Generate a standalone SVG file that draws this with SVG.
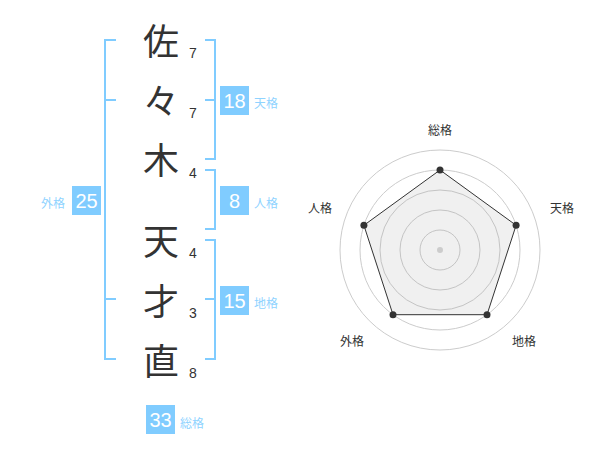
<svg xmlns="http://www.w3.org/2000/svg" width="600" height="470" viewBox="0 0 600 470">
<style>
.br{fill:none;stroke:#80ccff;stroke-width:2}
.kj{font-family:"Noto Sans CJK JP","Noto Sans CJK SC",sans-serif;font-size:36px;fill:#333;text-anchor:middle}
.num{font-family:"Liberation Sans",Arial,sans-serif;font-size:14px;fill:#333;text-anchor:middle}
.box{fill:#80ccff}
.bn{font-family:"Liberation Sans",Arial,sans-serif;font-size:20px;fill:#fff;text-anchor:middle}
.lb{font-family:"Noto Sans CJK JP","Noto Sans CJK SC",sans-serif;font-size:12px;fill:#8fd3ff}
.rl{font-family:"Noto Sans CJK JP","Noto Sans CJK SC",sans-serif;font-size:12px;fill:#333;text-anchor:middle}
.ring{fill:none;stroke:#ccc;stroke-width:1}
</style>
<rect width="600" height="470" fill="#fff"/>
<g id="connectors">
<path class="br" d="M116,40 H105 V359 H116 M105,100 H116 M105,299 H116"/>
<path class="br" d="M205,40 H215 V159 H205 M215,100 H205"/>
<path class="br" d="M205,170 H215 V229 H205"/>
<path class="br" d="M205,240 H215 V359 H205 M215,299 H205"/>
</g>
<g id="name">
<text class="kj" x="161" y="55">佐</text>
<text class="kj" x="161" y="115">々</text>
<text class="kj" x="161" y="174">木</text>
<text class="kj" x="161" y="255">天</text>
<text class="kj" x="161" y="315">才</text>
<text class="kj" x="161" y="375">直</text>
<text class="num" x="193" y="58">7</text>
<text class="num" x="193" y="118">7</text>
<text class="num" x="193" y="178">4</text>
<text class="num" x="193" y="258">4</text>
<text class="num" x="193" y="318">3</text>
<text class="num" x="193" y="378">8</text>
</g>
<g id="tenkaku">
<rect class="box" x="220" y="86" width="29" height="29"/>
<text class="bn" x="234.5" y="108">18</text>
<text class="lb" x="254" y="108">天格</text>
</g>
<g id="jinkaku">
<rect class="box" x="220" y="186" width="29" height="29"/>
<text class="bn" x="234.5" y="208">8</text>
<text class="lb" x="254" y="208">人格</text>
</g>
<g id="chikaku">
<rect class="box" x="220" y="286" width="29" height="29"/>
<text class="bn" x="234.5" y="308">15</text>
<text class="lb" x="254" y="308">地格</text>
</g>
<g id="gaikaku">
<rect class="box" x="72" y="186" width="29" height="29"/>
<text class="bn" x="86.5" y="208">25</text>
<text class="lb" x="41" y="208">外格</text>
</g>
<g id="soukaku">
<rect class="box" x="146" y="405" width="29" height="29"/>
<text class="bn" x="160.5" y="427">33</text>
<text class="lb" x="180" y="428">総格</text>
</g>
<g id="radar">
<circle class="ring" cx="440" cy="250" r="20"/>
<circle class="ring" cx="440" cy="250" r="40"/>
<circle class="ring" cx="440" cy="250" r="60"/>
<circle class="ring" cx="440" cy="250" r="80"/>
<circle class="ring" cx="440" cy="250" r="100"/>
<polygon points="440,170 516.1,225.3 487,314.7 393,314.7 363.9,225.3" fill="#999" fill-opacity="0.15" stroke="#333" stroke-width="1"/>
<circle cx="440" cy="250" r="3" fill="#ccc"/>
<g fill="#333">
<circle cx="440" cy="170" r="3.5"/>
<circle cx="516.1" cy="225.3" r="3.5"/>
<circle cx="487" cy="314.7" r="3.5"/>
<circle cx="393" cy="314.7" r="3.5"/>
<circle cx="363.9" cy="225.3" r="3.5"/>
</g>
<text class="rl" x="440" y="135">総格</text>
<text class="rl" x="562" y="213">天格</text>
<text class="rl" x="524" y="346">地格</text>
<text class="rl" x="352" y="346">外格</text>
<text class="rl" x="320" y="213">人格</text>
</g>
</svg>
